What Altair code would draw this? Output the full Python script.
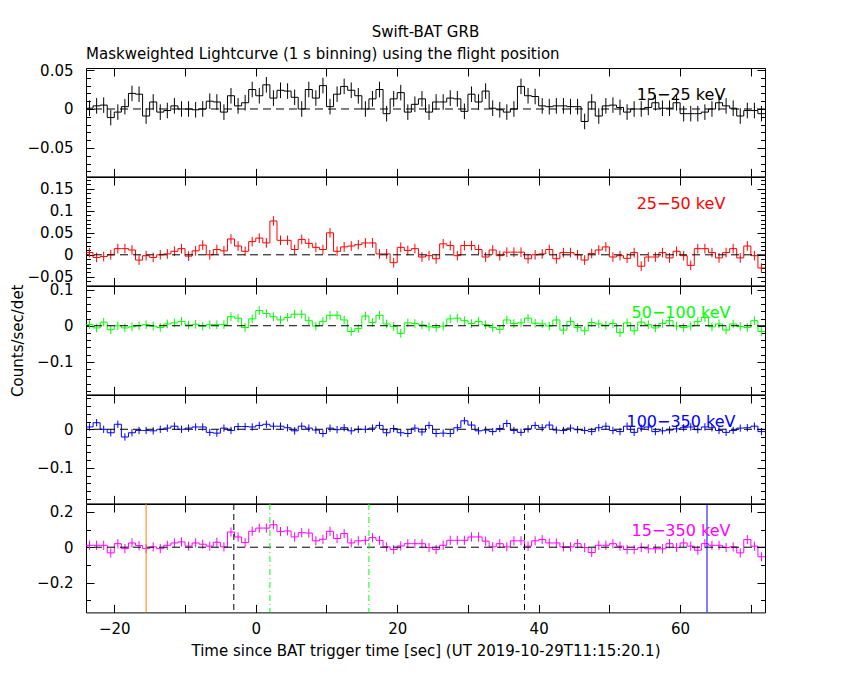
import altair as alt
import pandas as pd

X_MIN, X_MAX = -24, 72
NBIN = 96

RATE_15_25 = [
    0.001, 0.004, 0.005, -0.011, -0.004, 0.003, 0.020, 0.019, -0.009, 0.009, -0.004, -0.002,
    0.004, 0.000, 0.000, -0.001, 0.000, 0.010, 0.009, -0.004, 0.017, 0.004, 0.008, 0.025,
    0.017, 0.031, 0.014, 0.024, 0.023, 0.015, 0.000, 0.025, 0.014, 0.030, 0.003, 0.019,
    0.029, 0.024, 0.017, 0.000, 0.013, 0.025, -0.006, 0.013, 0.021, -0.004, 0.006, 0.013,
    -0.004, 0.009, 0.009, 0.014, 0.013, -0.003, 0.019, 0.009, 0.023, 0.001, -0.001, -0.004,
    0.000, 0.029, 0.017, 0.016, 0.004, 0.003, 0.004, 0.004, 0.003, 0.003, -0.016, 0.009,
    -0.009, 0.004, 0.005, 0.002, -0.004, 0.000, 0.000, 0.002, 0.008, 0.001, 0.001, 0.008,
    -0.006, -0.006, -0.006, -0.004, 0.000, 0.008, 0.004, 0.001, -0.009, -0.002, -0.002, -0.006,
]
RATE_25_50 = [
    0.005, -0.006, -0.004, 0.000, 0.014, 0.014, 0.011, -0.012, -0.002, -0.006, 0.000, 0.002,
    0.008, 0.014, -0.003, 0.009, 0.022, 0.000, 0.012, 0.009, 0.036, 0.020, 0.008, 0.030,
    0.038, 0.027, 0.077, 0.033, 0.033, 0.012, 0.035, 0.026, 0.017, 0.012, 0.050, 0.008,
    0.018, 0.020, 0.023, 0.027, 0.027, 0.002, 0.002, -0.018, 0.017, 0.010, 0.014, -0.005,
    -0.002, -0.009, 0.025, 0.021, -0.002, 0.021, 0.021, 0.012, -0.005, 0.011, -0.002, 0.006,
    0.006, 0.006, -0.009, 0.000, 0.002, 0.012, -0.009, 0.005, 0.005, 0.000, -0.012, 0.003,
    0.011, 0.018, -0.005, -0.002, -0.008, 0.005, -0.026, -0.005, -0.005, 0.005, -0.007, 0.008,
    -0.002, -0.024, 0.014, 0.014, 0.005, -0.007, 0.005, 0.014, -0.007, 0.020, -0.002, -0.030,
]
RATE_50_100 = [
    0.003, -0.006, 0.010, -0.011, 0.000, -0.006, -0.003, 0.000, 0.003, -0.001, -0.005, 0.005,
    0.008, 0.012, 0.002, 0.004, -0.001, 0.003, 0.003, 0.003, 0.025, 0.021, -0.005, 0.019,
    0.042, 0.034, 0.025, 0.016, 0.023, 0.032, 0.032, 0.014, -0.001, 0.012, 0.029, 0.029,
    0.016, -0.016, -0.008, 0.027, 0.009, 0.029, 0.005, -0.002, -0.021, 0.008, 0.006, 0.002,
    -0.003, -0.005, -0.001, 0.019, 0.021, 0.014, 0.006, 0.012, 0.003, -0.005, -0.010, 0.016,
    0.006, 0.008, 0.021, 0.007, 0.005, -0.001, 0.016, -0.012, 0.012, -0.005, -0.014, 0.009,
    0.005, 0.001, 0.006, -0.019, 0.008, -0.014, 0.010, 0.003, -0.006, 0.006, 0.014, -0.001,
    -0.005, -0.001, 0.012, 0.023, -0.003, 0.005, -0.012, 0.005, -0.002, -0.005, 0.014, -0.016,
]
RATE_100_350 = [
    0.006, 0.017, 0.000, -0.009, 0.013, -0.020, -0.009, -0.003, -0.003, -0.004, 0.000, 0.003,
    0.008, 0.000, 0.003, 0.006, 0.006, -0.008, -0.010, 0.003, -0.003, 0.007, 0.007, 0.006,
    0.010, 0.013, 0.008, 0.008, 0.004, -0.004, 0.008, 0.003, -0.002, -0.011, 0.003, -0.001,
    0.004, -0.004, 0.000, 0.000, 0.003, 0.010, -0.009, 0.002, -0.009, -0.011, 0.003, -0.007,
    0.010, -0.011, -0.010, -0.011, 0.004, 0.022, 0.011, -0.004, -0.002, -0.006, 0.002, 0.015,
    -0.003, -0.008, 0.001, 0.010, 0.004, 0.011, -0.002, -0.003, 0.003, -0.001, -0.003, -0.006,
    0.004, 0.008, -0.003, -0.006, 0.008, -0.008, 0.003, 0.006, -0.006, -0.004, -0.002, 0.001,
    0.004, 0.006, -0.001, 0.006, 0.004, -0.003, -0.008, -0.003, 0.003, 0.004, 0.008, -0.006,
]
RATE_15_350 = [
    0.011, 0.011, 0.011, -0.032, 0.020, -0.008, 0.024, 0.009, -0.008, 0.002, -0.008, 0.011,
    0.024, 0.030, 0.006, 0.024, 0.017, 0.006, 0.028, 0.002, 0.086, 0.058, 0.026, 0.090,
    0.108, 0.108, 0.127, 0.088, 0.092, 0.058, 0.082, 0.080, 0.036, 0.045, 0.090, 0.049,
    0.077, 0.024, 0.036, 0.039, 0.054, 0.039, 0.002, -0.013, 0.007, 0.020, 0.020, 0.020,
    -0.002, -0.013, 0.011, 0.039, 0.039, 0.039, 0.058, 0.058, 0.034, 0.002, 0.020, 0.002,
    0.036, 0.036, 0.006, 0.036, 0.043, 0.024, 0.024, 0.002, 0.002, 0.020, -0.002, -0.030,
    0.011, 0.011, 0.020, 0.006, -0.013, -0.013, -0.002, -0.009, -0.009, -0.009, 0.020, -0.002,
    0.024, 0.006, -0.017, 0.020, 0.011, 0.011, -0.002, 0.002, -0.032, 0.043, 0.006, -0.054,
]
RATES = [RATE_15_25, RATE_25_50, RATE_50_100, RATE_100_350, RATE_15_350]
for r in RATES:
    assert len(r) == NBIN

ERRS = [0.010, 0.011, 0.012, 0.0095, 0.026]
BANDS = ["15\u221225 keV", "25\u221250 keV", "50\u2212100 keV", "100\u2212350 keV", "15\u2212350 keV"]
COLORS = ["#000000", "#ff0000", "#00ff00", "#0000ff", "#ff00ff"]
Y_DOMAINS = [[-0.0865, 0.0526], [-0.0696, 0.177], [-0.19, 0.11], [-0.192, 0.0888], [-0.368, 0.244]]
Y_LABELS = [[-0.05, 0, 0.05], [-0.05, 0, 0.05, 0.1, 0.15], [-0.1, 0, 0.1], [-0.1, 0], [-0.2, 0, 0.2]]
Y_MAJOR_STEP = [0.05, 0.05, 0.1, 0.1, 0.2]
Y_MINOR_STEP = [0.01, 0.01, 0.02, 0.02, 0.1]
X_LABELS = [-20, 0, 20, 40, 60]
X_TICKS = [-20, -10, 0, 10, 20, 30, 40, 50, 60, 70]

T_ORANGE = [-15.5]
T_DASHED = [-3.1, 38.0]
T_DASHDOT = [2.0, 16.0]
T_BLUE = [63.8]

TITLE = "Swift-BAT GRB"
SUBTITLE = "Maskweighted Lightcurve (1 s binning) using the flight position"
XTITLE = "Time since BAT trigger time [sec] (UT 2019-10-29T11:15:20.1)"
YTITLE = "Counts/sec/det"

W, H = 679, 108.4
FONT = "DejaVu Sans"
FS = 15


def steps(lo, hi, step):
    out = []
    k = int(lo / step) - 1
    while k * step <= hi + 1e-9:
        v = round(k * step, 4)
        if lo - 1e-9 <= v <= hi + 1e-9:
            out.append(v)
        k += 1
    return out


def tick_axis(orient, values, size, offset):
    return alt.Axis(orient=orient, values=values, labels=False, ticks=True, tickSize=size,
                    tickColor="black", tickWidth=1, domain=False, grid=False,
                    offset=offset, title=None)


def panel(k):
    vals = RATES[k]
    edges = [X_MIN + i for i in range(NBIN)]
    line_df = pd.DataFrame({"t": edges + [X_MAX], "rate": vals + [vals[-1]]})
    err_df = pd.DataFrame({
        "t": [e + 0.5 for e in edges],
        "rate": vals,
        "lo": [v - ERRS[k] for v in vals],
        "hi": [v + ERRS[k] for v in vals],
    })
    lo, hi = Y_DOMAINS[k]
    xs = alt.Scale(domain=[X_MIN, X_MAX], nice=False, zero=False)
    ys = alt.Scale(domain=Y_DOMAINS[k], nice=False, zero=False)
    major = steps(lo, hi, Y_MAJOR_STEP[k])
    minor = steps(lo, hi, Y_MINOR_STEP[k])

    if k == 4:
        xlab = alt.Axis(orient="bottom", values=X_LABELS, ticks=False, tickSize=0, domain=False,
                        grid=False, labelPadding=9, title=XTITLE, titlePadding=7)
    else:
        xlab = None
    yargs = dict(orient="left", values=Y_LABELS[k], format=".2~f", ticks=False, tickSize=0,
                 domain=False, grid=False, labelPadding=13)
    if k == 2:
        ylab = alt.Axis(title=YTITLE, titlePadding=11, **yargs)
    else:
        ylab = alt.Axis(title=None, **yargs)

    color = COLORS[k]
    line = alt.Chart(line_df).mark_line(interpolate="step-after", color=color, strokeWidth=1).encode(
        x=alt.X("t:Q", scale=xs, axis=xlab),
        y=alt.Y("rate:Q", scale=ys, axis=ylab),
    )
    err = alt.Chart(err_df).mark_rule(color=color, strokeWidth=1).encode(
        x=alt.X("t:Q", scale=xs, axis=tick_axis("top", X_TICKS, 8, -H)),
        y=alt.Y("lo:Q", scale=ys, axis=tick_axis("right", major, 8, -W)),
        y2="hi:Q",
    )
    inv1 = alt.Chart(err_df).mark_point(opacity=0).encode(
        x=alt.X("t:Q", scale=xs, axis=tick_axis("bottom", X_TICKS, 8, -H)),
        y=alt.Y("rate:Q", scale=ys, axis=tick_axis("right", minor, 4.5, -W)),
    )
    inv2 = alt.Chart(err_df).mark_point(opacity=0).encode(
        x=alt.X("t:Q", scale=xs, axis=None),
        y=alt.Y("rate:Q", scale=ys, axis=tick_axis("left", major, 8, -W)),
    )
    inv3 = alt.Chart(err_df).mark_point(opacity=0).encode(
        x=alt.X("t:Q", scale=xs, axis=None),
        y=alt.Y("rate:Q", scale=ys, axis=tick_axis("left", minor, 4.5, -W)),
    )
    zero = alt.Chart(pd.DataFrame({"z": [0]})).mark_rule(
        color="black", strokeWidth=1, strokeDash=[8, 5]).encode(
        y=alt.Y("z:Q", scale=ys, axis=None),
    )
    label = alt.Chart(pd.DataFrame({"band": [BANDS[k]]})).mark_text(
        color=color, fontSize=16, font=FONT, align="center", baseline="middle").encode(
        text="band:N", x=alt.value(595), y=alt.value(27),
    )
    layers = [line, err, inv1, inv2, inv3, zero]
    if k == 4:
        for times, col, dash in [(T_ORANGE, "#ff8000", None), (T_DASHED, "black", [6, 4]),
                                 (T_DASHDOT, "#00ff00", [6, 3, 1, 3]), (T_BLUE, "#0000ff", None)]:
            kw = dict(color=col, strokeWidth=1)
            if dash:
                kw["strokeDash"] = dash
            layers.append(alt.Chart(pd.DataFrame({"t": times})).mark_rule(**kw).encode(
                x=alt.X("t:Q", scale=xs, axis=None)))
    layers.append(label)
    props = dict(width=W, height=H)
    if k == 0:
        props["title"] = alt.TitleParams(SUBTITLE, anchor="start", frame="group", fontSize=FS,
                                         font=FONT, fontWeight="normal", offset=1)
    return alt.layer(*layers).resolve_axis(x="independent", y="independent").properties(**props)


chart = alt.vconcat(
    *[panel(k) for k in range(5)],
    spacing=0,
    bounds="flush",
    background="white",
    title=alt.TitleParams(TITLE, anchor="middle", frame="group", fontSize=FS, font=FONT,
                          fontWeight="normal", offset=7),
    padding={"left": 2, "top": 16, "right": 5, "bottom": 5},
).configure_view(
    stroke="black", strokeWidth=1
).configure_axis(
    labelFont=FONT, titleFont=FONT, labelColor="black", titleColor="black",
    labelFontSize=FS, titleFontSize=FS, titleFontWeight="normal",
).configure_title(
    font=FONT, fontSize=FS, fontWeight="normal", color="black"
)

chart.save("out.html", embed_options={"renderer": "svg", "actions": False})
